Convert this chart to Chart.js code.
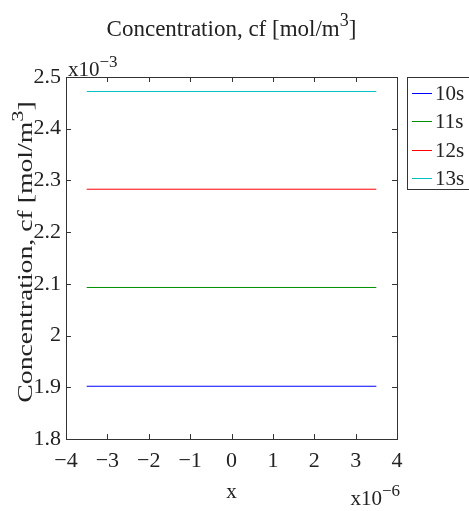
<!DOCTYPE html>
<html>
<head>
<meta charset="utf-8">
<script src="https://cdn.jsdelivr.net/npm/chart.js@4.4.1/dist/chart.umd.min.js"></script>
<style>
  html, body { margin: 0; padding: 0; background: #fff; }
  canvas { display: block; }
</style>
</head>
<body>
<canvas id="cfChart" width="469" height="511"></canvas>
<script>
// Concentration cf along x, one flat profile per time step
const xPos = [-3.5e-6, 3.5e-6];
const timeLabels = ['10s', '11s', '12s', '13s'];
const cf10s = [1.902e-3, 1.902e-3];
const cf11s = [2.093e-3, 2.093e-3];
const cf12s = [2.283e-3, 2.283e-3];
const cf13s = [2.472e-3, 2.472e-3];
const lineColors = ['#0000ff', '#009000', '#ff0000', '#00c0c0'];

const xTicks = [-4e-6, -3e-6, -2e-6, -1e-6, 0, 1e-6, 2e-6, 3e-6, 4e-6];
const xTickLabels = ['−4', '−3', '−2', '−1', '0', '1', '2', '3', '4'];
const yTicks = [1.8e-3, 1.9e-3, 2.0e-3, 2.1e-3, 2.2e-3, 2.3e-3, 2.4e-3, 2.5e-3];
const yTickLabels = ['1.8', '1.9', '2', '2.1', '2.2', '2.3', '2.4', '2.5'];

const FONT = "'Liberation Serif', 'Times New Roman', serif";
const INK = '#222';

const toPoints = ys => xPos.map((x, i) => ({ x: x, y: ys[i] }));

// draws a run of text pieces, some raised as superscripts
function drawRich(ctx, parts, x, y, size, align) {
    const supSize = Math.round(size * 0.8);
    const widths = parts.map(p => {
        ctx.font = (p.sup ? supSize : size) + 'px ' + FONT;
        return ctx.measureText(p.t).width;
    });
    const total = widths.reduce((s, w) => s + w, 0);
    let cx = align === 'center' ? x - total / 2 : align === 'right' ? x - total : x;
    ctx.textAlign = 'left';
    ctx.textBaseline = 'alphabetic';
    parts.forEach((p, i) => {
        ctx.font = (p.sup ? supSize : size) + 'px ' + FONT;
        ctx.fillText(p.t, cx, p.sup ? y - size * 0.45 : y);
        cx += widths[i];
    });
}

const unitParts = [{ t: 'Concentration, cf [mol/m' }, { t: '3', sup: true }, { t: ']' }];

// box, inward ticks on all sides, titles, exponents and legend
const framePlugin = {
    id: 'frame',
    afterDraw(chart) {
        const { ctx, chartArea: a, scales: { x, y } } = chart;
        ctx.save();
        ctx.strokeStyle = '#333';
        ctx.lineWidth = 1;
        ctx.strokeRect(a.left + 0.5, a.top + 0.5, a.right - a.left, a.bottom - a.top);

        ctx.beginPath();
        x.ticks.forEach(t => {
            const px = Math.round(x.getPixelForValue(t.value)) + 0.5;
            ctx.moveTo(px, a.bottom); ctx.lineTo(px, a.bottom - 5);
            ctx.moveTo(px, a.top); ctx.lineTo(px, a.top + 5);
        });
        y.ticks.forEach(t => {
            const py = Math.round(y.getPixelForValue(t.value)) + 0.5;
            ctx.moveTo(a.left, py); ctx.lineTo(a.left + 5, py);
            ctx.moveTo(a.right, py); ctx.lineTo(a.right - 5, py);
        });
        ctx.stroke();

        ctx.fillStyle = INK;
        const midX = (a.left + a.right) / 2;
        const midY = (a.top + a.bottom) / 2;

        // chart title
        drawRich(ctx, unitParts, midX, 36, 23, 'center');

        // y axis title, stretched along the text
        ctx.save();
        ctx.translate(32, midY - 6);
        ctx.rotate(-Math.PI / 2);
        ctx.scale(1.32, 1);
        drawRich(ctx, unitParts, 0, 0, 21, 'center');
        ctx.restore();

        // x axis title
        ctx.font = '21px ' + FONT;
        ctx.textAlign = 'center';
        ctx.textBaseline = 'alphabetic';
        ctx.fillText('x', midX, 498);

        // axis multipliers
        drawRich(ctx, [{ t: 'x10' }, { t: '−3', sup: true }], a.left + 2, a.top - 1, 21, 'left');
        drawRich(ctx, [{ t: 'x10' }, { t: '−6', sup: true }], a.right + 3, 505, 21, 'right');

        // legend
        const lx = a.right + 10;
        ctx.strokeStyle = '#333';
        ctx.strokeRect(lx + 0.5, a.top + 0.5, 90, 112);
        chart.data.datasets.forEach((ds, i) => {
            const ly = Math.round(a.top + 16 + i * 28.3) + 0.5;
            ctx.strokeStyle = ds.borderColor;
            ctx.beginPath();
            ctx.moveTo(lx + 5, ly); ctx.lineTo(lx + 25, ly);
            ctx.stroke();
            ctx.fillStyle = INK;
            ctx.font = '21px ' + FONT;
            ctx.textAlign = 'left';
            ctx.textBaseline = 'middle';
            ctx.fillText(ds.label, lx + 28, ly + 1);
        });
        ctx.restore();
    }
};

const series = [cf10s, cf11s, cf12s, cf13s];

new Chart(document.getElementById('cfChart'), {
    type: 'line',
    data: {
        datasets: series.map((ys, i) => ({
            label: timeLabels[i],
            data: toPoints(ys),
            borderColor: lineColors[i],
            borderWidth: 1,
            pointRadius: 0,
            fill: false,
            tension: 0
        }))
    },
    options: {
        responsive: false,
        animation: false,
        layout: { padding: { top: 77, right: 72, left: 0, bottom: 0 } },
        plugins: {
            legend: { display: false },
            title: { display: false },
            tooltip: { enabled: false }
        },
        scales: {
            x: {
                type: 'linear',
                min: -4e-6,
                max: 4e-6,
                grid: { display: false, drawTicks: false },
                border: { display: false },
                afterBuildTicks: s => { s.ticks = xTicks.map(v => ({ value: v })); },
                afterFit: s => { s.height = 72; },
                ticks: {
                    padding: 9,
                    color: INK,
                    autoSkip: false,
                    maxRotation: 0,
                    font: { family: FONT, size: 22 },
                    callback: (v, i) => xTickLabels[i]
                }
            },
            y: {
                type: 'linear',
                min: 1.8e-3,
                max: 2.5e-3,
                grid: { display: false, drawTicks: false },
                border: { display: false },
                afterBuildTicks: s => { s.ticks = yTicks.map(v => ({ value: v })); },
                afterFit: s => { s.width = 66; },
                ticks: {
                    padding: 5,
                    color: INK,
                    autoSkip: false,
                    font: { family: FONT, size: 22 },
                    callback: (v, i) => yTickLabels[i]
                }
            }
        }
    },
    plugins: [framePlugin]
});
</script>
</body>
</html>
